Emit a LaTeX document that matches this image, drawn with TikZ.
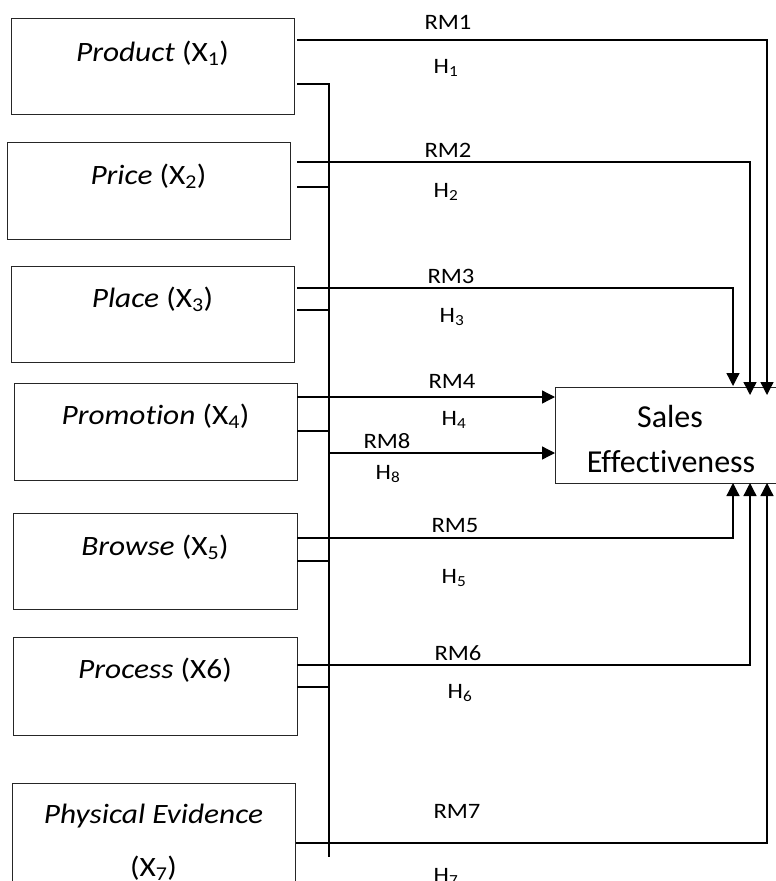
\documentclass[tikz,border=0pt]{standalone}
\usepackage{fontspec}
\setmainfont{Carlito}[Ligatures=NoCommon]
\newfontfamily\widefont{Carlito}[FakeStretch=1.12,Ligatures=NoCommon]
\usetikzlibrary{arrows.meta}
\begin{document}
\begin{tikzpicture}[x=1pt,y=-1pt,
  box/.style={draw=black!85, line width=1.2pt, minimum width=283pt, minimum height=96pt, inner sep=0pt, anchor=north west},
  btext/.style={anchor=base, inner sep=0pt, font=\widefont\fontsize{28}{32}\selectfont},
  stext/.style={anchor=base, inner sep=0pt, font=\fontsize{32}{36}\selectfont},
  lbl/.style={anchor=base, inner sep=0pt, font=\widefont\fontsize{22}{26}\selectfont},
  ln/.style={line width=1.3pt},
  tip/.style={ln, -{Triangle[length=13pt,width=13pt]}}]
\clip (0,0) rectangle (776,881);
\fill[white] (0,0) rectangle (776,881);
% boxes
\node[box] (prod) at (11,18) {};
\node[box, minimum height=97pt] (price) at (7,142) {};
\node[box] (place) at (11,266) {};
\node[box, minimum height=97pt] (promo) at (14,383) {};
\node[box, minimum width=284pt] (browse) at (13,513) {};
\node[box, minimum width=284pt, minimum height=98pt] (process) at (13,637) {};
\node[box, minimum height=130pt] (phys) at (12,783) {};
\node[box, minimum width=240pt, minimum height=96pt] (sales) at (555,387) {};
% box texts
\node[btext] (prodT) at (152.5,61) {\textit{Product} (X\textsubscript{1})};
\node[btext] (priceT) at (148.5,184) {\textit{Price} (X\textsubscript{2})};
\node[btext] (placeT) at (152.5,307) {\textit{Place} (X\textsubscript{3})};
\node[btext] (promoT) at (155.5,424) {\textit{Promotion} (X\textsubscript{4})};
\node[btext] (browseT) at (155,555) {\textit{Browse} (X\textsubscript{5})};
\node[btext] (processT) at (155,678) {\textit{Process} (X6)};
\node[btext] (physT) at (153.5,823) {\textit{Physical Evidence}};
\node[btext] (physT2) at (153.5,876) {(X\textsubscript{7})};
\node[stext] (salesT) at (670,427) {Sales};
\node[stext] (salesT2) at (671,472) {Effectiveness};
% labels
\node[lbl] (rm1) at (448,29) {RM1};
\node[lbl] (h1) at (446,73) {H\textsubscript{1}};
\node[lbl] (rm2) at (448,157) {RM2};
\node[lbl] (h2) at (446,197) {H\textsubscript{2}};
\node[lbl] (rm3) at (451,283) {RM3};
\node[lbl] (h3) at (452,322) {H\textsubscript{3}};
\node[lbl] (rm4) at (452,388) {RM4};
\node[lbl] (h4) at (454,425) {H\textsubscript{4}};
\node[lbl] (rm8) at (387,448) {RM8};
\node[lbl] (h8) at (388,479) {H\textsubscript{8}};
\node[lbl] (rm5) at (455,532) {RM5};
\node[lbl] (h5) at (454,583) {H\textsubscript{5}};
\node[lbl] (rm6) at (458,660) {RM6};
\node[lbl] (h6) at (460,698) {H\textsubscript{6}};
\node[lbl] (rm7) at (457,818) {RM7};
\node[lbl] (h7) at (446,882) {H\textsubscript{7}};
% helper coordinates
\coordinate (port) at (297,0);
\coordinate (busT) at (329,84);
\coordinate (busB) at (329,857);
\coordinate (inA) at (733,386);
\coordinate (inB) at (750,395);
\coordinate (inC) at (767,395);
\coordinate (outA) at (733,483);
\coordinate (outB) at (750,483);
\coordinate (outC) at (767,483);
% bus
\draw[ln] (port |- busT) -- (busT) -- (busB);
% direct paths
\draw[tip] (port |- 0,40) -| (inC);
\draw[tip] (port |- 0,162) -| (inB);
\draw[tip] (port |- 0,288) -| (inA);
\draw[tip] (port |- 0,397) -- (sales.west |- 0,397);
\draw[tip] (busT |- 0,453) -- (sales.west |- 0,453);
\draw[tip] (port |- 0,538) -| (outA);
\draw[tip] (port |- 0,665) -| (outB);
\draw[tip] (phys.east |- 0,843) -| (outC);
% stubs to bus
\draw[ln] (port |- 0,187) -- (busT |- 0,187);
\draw[ln] (port |- 0,310) -- (busT |- 0,310);
\draw[ln] (port |- 0,431) -- (busT |- 0,431);
\draw[ln] (port |- 0,561) -- (busT |- 0,561);
\draw[ln] (port |- 0,687) -- (busT |- 0,687);
\end{tikzpicture}
\end{document}
